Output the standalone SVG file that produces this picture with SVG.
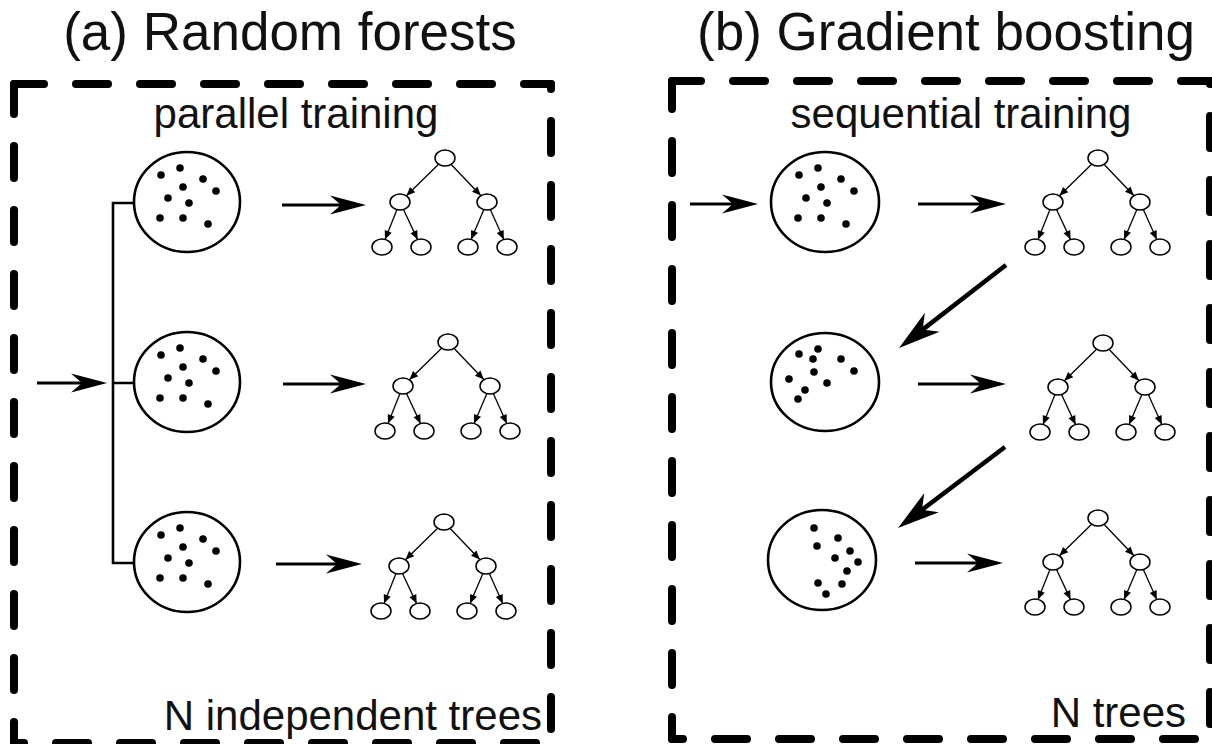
<svg xmlns="http://www.w3.org/2000/svg" xmlns:xlink="http://www.w3.org/1999/xlink" width="1212" height="744" viewBox="0 0 1212 744">
<style>
.frame{fill:none;stroke:#000;stroke-width:8;stroke-linecap:round;stroke-dasharray:32 32}
.title{font-family:"Liberation Sans",Arial,sans-serif;font-size:53px;fill:#111}
.label{font-family:"Liberation Sans",Arial,sans-serif;font-size:42px;fill:#111}
.bag{fill:#fff;stroke:#000;stroke-width:2.6}
.dot{fill:#000}
.tn{fill:#fff;stroke:#000;stroke-width:1.5}
.te{fill:none;stroke:#000;stroke-width:1.3;marker-end:url(#sm)}
.arr{fill:none;stroke:#000;stroke-width:3;marker-end:url(#ah)}
.darr{fill:none;stroke:#000;stroke-width:4.5;marker-end:url(#ah2)}
.br{fill:none;stroke:#000;stroke-width:2.6}
</style>
<defs>
<marker id="sm" markerUnits="userSpaceOnUse" markerWidth="10" markerHeight="10" refX="7" refY="0" viewBox="0 -4 8 8" orient="auto" overflow="visible"><path d="M0,-3 L7,0 L0,3 Z" fill="#000"/></marker>
<marker id="ah" markerUnits="userSpaceOnUse" markerWidth="40" markerHeight="24" refX="24" refY="0" viewBox="0 -12 40 24" orient="auto" overflow="visible"><path d="M0,-9.5 L36,0 L0,9.5 L11,0 Z" fill="#000"/></marker>
<marker id="ah2" markerUnits="userSpaceOnUse" markerWidth="46" markerHeight="28" refX="28" refY="0" viewBox="0 -14 46 28" orient="auto" overflow="visible"><path d="M0,-12 L42,0 L0,12 L12,0 Z" fill="#000"/></marker>
<g id="tree">
<path class="te" d="M-6.4,6.3 L-38.6,37.7"/>
<path class="te" d="M6.2,6.5 L35.8,37.5"/>
<path class="te" d="M-48,51.4 L-60,81.4"/>
<path class="te" d="M-41.6,51.2 L-27.4,81.6"/>
<path class="te" d="M38.9,51.4 L26.1,81.4"/>
<path class="te" d="M45.2,51.3 L58.8,81.5"/>
<ellipse class="tn" cx="0" cy="0" rx="10" ry="8"/>
<ellipse class="tn" cx="-45" cy="44" rx="10" ry="8"/>
<ellipse class="tn" cx="42" cy="44" rx="10" ry="8"/>
<ellipse class="tn" cx="-63" cy="89" rx="10" ry="8"/>
<ellipse class="tn" cx="-24" cy="89" rx="10" ry="8"/>
<ellipse class="tn" cx="23" cy="89" rx="10" ry="8"/>
<ellipse class="tn" cx="62" cy="89" rx="10" ry="8"/>
</g>
<g id="dotsA">
<circle class="dot" cx="-26" cy="-27" r="3.8"/><circle class="dot" cx="-7" cy="-34" r="3.8"/><circle class="dot" cx="16" cy="-23" r="3.8"/><circle class="dot" cx="-4" cy="-15" r="3.8"/><circle class="dot" cx="29" cy="-11" r="3.8"/><circle class="dot" cx="-19" cy="-4" r="3.8"/><circle class="dot" cx="2" cy="1" r="3.8"/><circle class="dot" cx="-27" cy="16" r="3.8"/><circle class="dot" cx="-4" cy="16" r="3.8"/><circle class="dot" cx="21" cy="22" r="3.8"/>
</g>
<g id="dotsB">
<circle class="dot" cx="-7" cy="-33" r="3.8"/><circle class="dot" cx="-26" cy="-28" r="3.8"/><circle class="dot" cx="-12" cy="-23" r="3.8"/><circle class="dot" cx="16" cy="-23" r="3.8"/><circle class="dot" cx="29" cy="-11" r="3.8"/><circle class="dot" cx="-11" cy="-10" r="3.8"/><circle class="dot" cx="-36" cy="-3" r="3.8"/><circle class="dot" cx="2" cy="1" r="3.8"/><circle class="dot" cx="-20" cy="8" r="3.8"/><circle class="dot" cx="-27" cy="17" r="3.8"/>
</g>
<g id="dotsC">
<circle class="dot" cx="-8" cy="-32" r="3.8"/><circle class="dot" cx="16" cy="-22" r="3.8"/><circle class="dot" cx="-5" cy="-14" r="3.8"/><circle class="dot" cx="28" cy="-9" r="3.8"/><circle class="dot" cx="13" cy="-2" r="3.8"/><circle class="dot" cx="36" cy="2" r="3.8"/><circle class="dot" cx="25" cy="11" r="3.8"/><circle class="dot" cx="-4" cy="23" r="3.8"/><circle class="dot" cx="20" cy="24" r="3.8"/><circle class="dot" cx="4" cy="34" r="3.8"/>
</g>
</defs>
<rect width="1212" height="744" fill="#fff"/>

<g id="frames">
<path class="frame" d="M14,84 H551" stroke-dashoffset="2"/>
<path class="frame" d="M551,84 V743" stroke-dashoffset="27"/>
<path class="frame" d="M14,84 V743" stroke-dashoffset="2"/>
<path class="frame" d="M14,743 H551" stroke-dashoffset="22"/>
<path class="frame" d="M672,81 H1210" stroke-dashoffset="3"/>
<path class="frame" d="M1210,81 V739" stroke-dashoffset="29"/>
<path class="frame" d="M672,81 V739" stroke-dashoffset="4"/>
<path class="frame" d="M672,739 H1210" stroke-dashoffset="21"/>
</g>

<g id="texts">
<text class="title" x="290" y="50" text-anchor="middle">(a) Random forests</text>
<text class="title" x="946" y="50" text-anchor="middle">(b) Gradient boosting</text>
<text class="label" x="296" y="128" text-anchor="middle">parallel training</text>
<text class="label" x="961" y="128" text-anchor="middle">sequential training</text>
<text class="label" x="542" y="730" text-anchor="end">N independent trees</text>
<text class="label" x="1186" y="727" text-anchor="end">N trees</text>
</g>

<g id="connectors">
<path class="br" d="M134,203 H113 V563 H134 M113,383 H134"/>
<path class="arr" d="M37,383 H95"/>
<path class="arr" d="M282,205 H354"/>
<path class="arr" d="M283,384 H354"/>
<path class="arr" d="M276,564 H350"/>
<path class="arr" d="M690,204 H746"/>
<path class="arr" d="M918,204 H994"/>
<path class="arr" d="M918,384 H994"/>
<path class="arr" d="M915,563 H991"/>
<path class="darr" d="M1006,265 L910.1,339.4"/>
<path class="darr" d="M1005,447 L909.2,519.5"/>
</g>

<g id="data-a1"><ellipse class="bag" cx="187" cy="202" rx="53" ry="50"/><use xlink:href="#dotsA" x="187" y="202"/></g>
<g id="data-a2"><ellipse class="bag" cx="187" cy="382" rx="53" ry="50"/><use xlink:href="#dotsA" x="187" y="382"/></g>
<g id="data-a3"><ellipse class="bag" cx="187" cy="562" rx="53" ry="50"/><use xlink:href="#dotsA" x="187" y="562"/></g>
<g id="data-b1"><ellipse class="bag" cx="825" cy="202" rx="54" ry="50"/><use xlink:href="#dotsA" x="825" y="202"/></g>
<g id="data-b2"><ellipse class="bag" cx="825" cy="382" rx="54" ry="49"/><use xlink:href="#dotsB" x="825" y="382"/></g>
<g id="data-b3"><ellipse class="bag" cx="822" cy="560" rx="54" ry="50"/><use xlink:href="#dotsC" x="822" y="560"/></g>

<g id="tree-a1"><use xlink:href="#tree" x="445" y="158"/></g>
<g id="tree-a2"><use xlink:href="#tree" x="448" y="342"/></g>
<g id="tree-a3"><use xlink:href="#tree" x="444" y="522"/></g>
<g id="tree-b1"><use xlink:href="#tree" x="1098" y="158"/></g>
<g id="tree-b2"><use xlink:href="#tree" x="1103" y="343"/></g>
<g id="tree-b3"><use xlink:href="#tree" x="1098" y="518"/></g>
</svg>
